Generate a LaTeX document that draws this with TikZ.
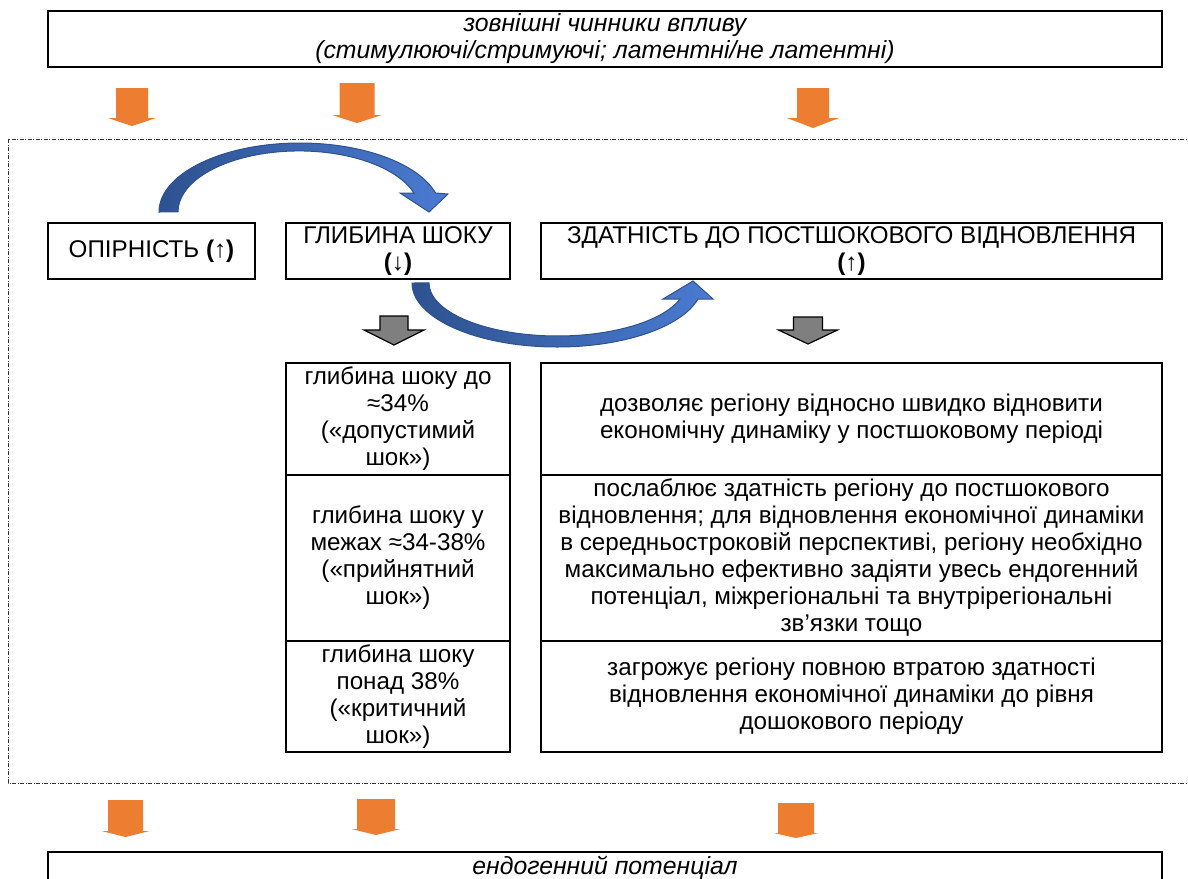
\documentclass[tikz,border=0pt]{standalone}
\usepackage{fontspec}
\setmainfont{Liberation Sans}
\definecolor{orng}{HTML}{ED7D31}
\definecolor{grayarr}{HTML}{7F7F7F}
\definecolor{bluedark}{HTML}{2E5290}
\definecolor{bluelight}{HTML}{4A7BD2}
\definecolor{blueedge}{HTML}{2F528F}
\newcommand\blockarr[7]{\path[#7] (#1-#5,#2) -- (#1+#5,#2) -- (#1+#5,#3) -- (#1+#6,#3) -- (#1,#4) -- (#1-#6,#3) -- (#1-#5,#3) -- cycle;}
\begin{document}
\begin{tikzpicture}[x=1pt,y=-1pt,
  box/.style={draw=black,line width=1.8pt,rectangle,inner sep=0pt,align=center,
    font=\fontsize{24.2}{27}\selectfont},
  frame/.style={draw=black!80,line width=0.9pt,dash pattern=on 4pt off 1.5pt on 1pt off 1.5pt},
  orangearr/.style={fill=orng},
  grayblock/.style={fill=grayarr,draw=black,line width=1.2pt,line join=miter},
  bluearrow/.style={left color=bluedark,right color=bluelight,draw=blueedge,line width=1pt,line join=miter}]
\useasboundingbox (0,0) rectangle (1188,878);
\clip (0,0) rectangle (1188,878);
\fill[white] (0,0) rectangle (1188,878);

% outer dash-dot frame
\draw[frame] (1200,139) -- (8,139) -- (8,783) -- (1200,783);

% top box
\node[box,minimum width=1114pt,minimum height=56pt,font=\fontsize{24.8}{27}\selectfont] (top) at (605,39)
  {\itshape зовнішні чинники впливу\\ \itshape(стимулюючі/стримуючі; латентні/не латентні)};

% top orange arrows
\blockarr{132}{88}{118}{126}{16}{24}{orangearr}
\blockarr{357}{83}{115}{123}{17.5}{25}{orangearr}
\blockarr{813}{88}{118}{128}{16}{26}{orangearr}

% main boxes
\node[box,minimum width=207pt,minimum height=56pt] (op) at (151.5,251)
  {ОПІРНІСТЬ \textbf{(}↑\textbf{)}};
\node[box,minimum width=224pt,minimum height=56pt] (gl) at (398,251)
  {ГЛИБИНА ШОКУ\\\textbf{(}↓\textbf{)}};
\node[box,minimum width=621pt,minimum height=56pt] (zd) at (851.5,251)
  {ЗДАТНІСТЬ ДО ПОСТШОКОВОГО ВІДНОВЛЕННЯ\\\textbf{(}↑\textbf{)}};

% curved arrows
\path[bluearrow] (159,212) arc[start angle=180,end angle=344,x radius=141,y radius=69]
  -- (448,194) -- (429,212) -- (400,193) -- (414,193)
  arc[start angle=341.9,end angle=180,x radius=121,y radius=61] -- cycle;
\path[bluearrow] (412,283) arc[start angle=180,end angle=14.5,x radius=145.3,y radius=64]
  -- (713,299) -- (693,281) -- (663,299) -- (680,299)
  arc[start angle=17.6,end angle=180,x radius=128.5,y radius=53] -- cycle;

% gray arrows
\blockarr{394}{316}{330}{345}{14}{30}{grayblock}
\blockarr{808}{317}{330}{344}{14.5}{29.5}{grayblock}

% table
\node[box,minimum width=224pt,minimum height=112pt] (l1) at (398,419)
  {глибина шоку до\\≈34\%\\(«допустимий\\шок»)};
\node[box,minimum width=224pt,minimum height=166pt] (l2) at (398,558)
  {глибина шоку у\\межах ≈34-38\%\\(«прийнятний\\шок»)};
\node[box,minimum width=224pt,minimum height=111pt] (l3) at (398,696.5)
  {глибина шоку\\понад 38\%\\(«критичний\\шок»)};
\node[box,minimum width=621pt,minimum height=112pt] (r1) at (851.5,419)
  {дозволяє регіону відносно швидко відновити\\економічну динаміку у постшоковому періоді};
\node[box,minimum width=621pt,minimum height=166pt] (r2) at (851.5,558)
  {послаблює здатність регіону до постшокового\\відновлення; для відновлення економічної динаміки\\в середньостроковій перспективі, регіону необхідно\\максимально ефективно задіяти увесь ендогенний\\потенціал, міжрегіональні та внутрірегіональні\\зв’язки тощо};
\node[box,minimum width=621pt,minimum height=111pt] (r3) at (851.5,696.5)
  {загрожує регіону повною втратою здатності\\відновлення економічної динаміки до рівня\\дошокового періоду};

% bottom orange arrows
\blockarr{125.5}{800}{831}{837}{17.5}{24}{orangearr}
\blockarr{376}{799}{829}{835}{19}{24.5}{orangearr}
\blockarr{796}{803}{833}{838}{18}{22.5}{orangearr}

% bottom box
\node[box,minimum width=1114pt,minimum height=32pt,font=\fontsize{24.8}{27}\selectfont] (bot) at (605,868)
  {\itshape ендогенний потенціал};
\end{tikzpicture}
\end{document}
